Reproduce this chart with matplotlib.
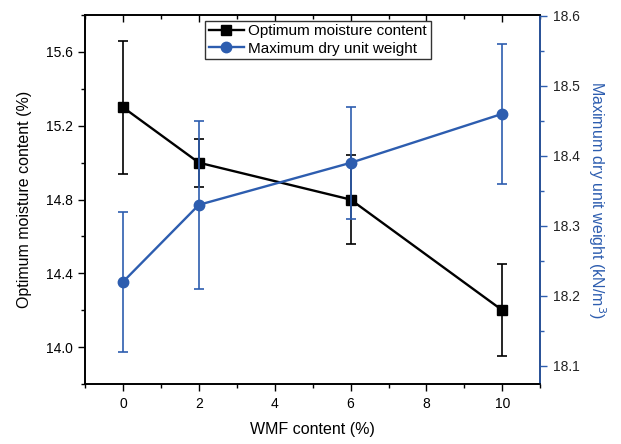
import matplotlib
matplotlib.use("Agg")
import matplotlib.pyplot as plt
from matplotlib.lines import Line2D
from matplotlib.ticker import MultipleLocator, FormatStrFormatter

plt.rcParams["font.family"] = ["Liberation Sans", "DejaVu Sans"]

# data
wmf = [0, 2, 6, 10]
omc = [15.30, 15.00, 14.80, 14.20]
omc_err = [0.36, 0.13, 0.24, 0.25]
mdd = [18.22, 18.33, 18.39, 18.46]
mdd_err = [0.10, 0.12, 0.08, 0.10]

blue = "#2D5DAF"

fig = plt.figure(figsize=(6.21, 4.44), dpi=100)
ax = fig.add_axes([0.137, 0.135, 0.733, 0.831])
ax2 = ax.twinx()

ax.errorbar(wmf, omc, yerr=omc_err, color="black", lw=1.7, marker="s",
            ms=7, elinewidth=1.2, capsize=3.5, capthick=1.2, zorder=3)
ax2.errorbar(wmf, mdd, yerr=mdd_err, color=blue, lw=1.7, marker="o",
             ms=7.5, elinewidth=1.2, capsize=3.5, capthick=1.2, zorder=3)

ax.set_xlim(-1, 11)
ax.set_ylim(13.8, 15.8)
ax2.set_ylim(18.074, 18.601)

ax.xaxis.set_major_locator(MultipleLocator(2))
ax.xaxis.set_minor_locator(MultipleLocator(1))
ax.yaxis.set_major_locator(MultipleLocator(0.4))
ax.yaxis.set_minor_locator(MultipleLocator(0.2))
ax.yaxis.set_major_formatter(FormatStrFormatter("%.1f"))
ax2.yaxis.set_major_locator(MultipleLocator(0.1))
ax2.yaxis.set_minor_locator(MultipleLocator(0.05))
ax2.yaxis.set_major_formatter(FormatStrFormatter("%.1f"))

ax.tick_params(axis="both", which="major", direction="out", length=5, width=1,
               labelsize=10, pad=4)
ax.tick_params(axis="both", which="minor", direction="out", length=3, width=1)
ax.xaxis.set_tick_params(which="both", top=True)
for t in ax.xaxis.get_major_ticks() + ax.xaxis.get_minor_ticks():
    t.tick2line.set_marker(3)  # inward on the top spine
ax2.tick_params(axis="y", which="major", direction="out", length=5, width=1,
                labelsize=10, pad=4, color=blue, labelcolor="#222222")
ax2.tick_params(axis="y", which="minor", direction="out", length=3, width=1, color=blue)

for s in ax.spines.values():
    s.set_linewidth(1.2)
for s in ax2.spines.values():
    s.set_linewidth(1.2)
ax2.spines["right"].set_color(blue)

ax.set_xlabel("WMF content (%)", fontsize=11.5, labelpad=8)
ax.set_ylabel("Optimum moisture content (%)", fontsize=11.5, labelpad=10)
ax2.set_ylabel("Maximum dry unit weight (kN/m$^3$)", fontsize=11.5, color=blue,
               rotation=270, labelpad=20)

handles = [
    Line2D([], [], color="black", lw=1.7, marker="s", ms=7),
    Line2D([], [], color=blue, lw=1.7, marker="o", ms=7.5),
]
labels = ["Optimum moisture content", "Maximum dry unit weight"]
leg = ax2.legend(handles, labels, loc="upper center", bbox_to_anchor=(0.511, 0.985),
                 fontsize=11, fancybox=False, edgecolor="#333333", framealpha=1,
                 handlelength=2.3, labelspacing=0.2, borderpad=0.25,
                 handletextpad=0.3, borderaxespad=0)
leg.get_frame().set_linewidth(1.0)

fig.savefig("out.png", dpi=100)
